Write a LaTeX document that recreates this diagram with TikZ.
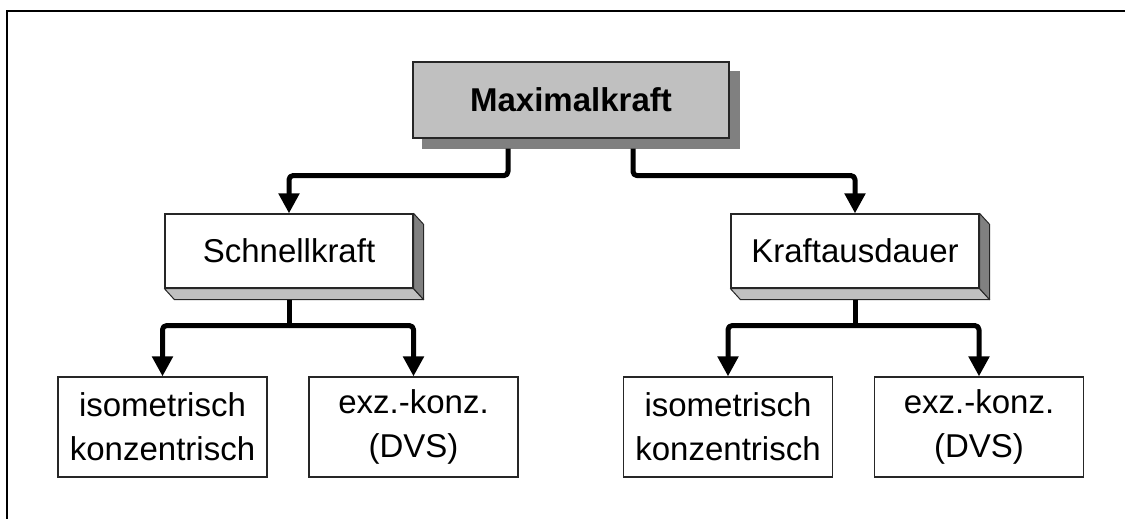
\documentclass[tikz,border=0pt]{standalone}
\usepackage{fontspec}
\setmainfont{Liberation Sans}
\usepackage{tikz}
\usetikzlibrary{positioning,arrows.meta,calc,backgrounds}
\definecolor{lightface}{HTML}{C0C0C0}
\definecolor{darkface}{HTML}{808080}
\tikzset{
  box/.style    = {draw=black!85, line width=0.6pt, fill=white, align=center,
                   inner sep=0pt, font=\fontsize{16.5}{22}\selectfont},
  mid/.style    = {box, minimum width=124pt, minimum height=37pt},
  leaf/.style   = {box, minimum width=104.5pt, minimum height=50pt},
  head/.style   = {box, fill=lightface, minimum width=158pt, minimum height=38pt,
                   font=\fontsize{16.5}{22}\selectfont\bfseries},
  conn/.style   = {line width=2.5pt, rounded corners=2pt, line join=round,
                   -{Triangle[length=10pt,width=10pt]}},
  face/.style   = {draw=black!85, line width=0.5pt, line join=round},
}
% bevel on the lower right of a node
\newcommand\bevel[1]{%
  \filldraw[face, fill=lightface] (#1.south west) -- (#1.south east)
    -- ++(5pt,-5.5pt) -- ($(#1.south west)+(5pt,-5.5pt)$) -- cycle;
  \filldraw[face, fill=darkface] (#1.north east) -- ++(5pt,-5.5pt)
    -- ($(#1.south east)+(5pt,-5.5pt)$) -- (#1.south east) -- cycle;}

\begin{document}
\begin{tikzpicture}[x=0.5pt, y=-0.5pt]
\useasboundingbox (0,0) rectangle (1125,519);
% frame
\draw[line width=1.2pt] (7,519) -- (7,11) -- (1125,11);

\node[head] (max) at (571,100) {Maximalkraft};
\begin{scope}[on background layer]
  \fill[darkface] ([xshift=5pt,yshift=-5pt]max.south west)
    rectangle ([xshift=5pt,yshift=-5pt]max.north east);
\end{scope}

\node[mid] (schnell) at (289,251) {Schnellkraft};
\node[mid] (ausdauer) at (855,251) {Kraftausdauer};
\bevel{schnell}
\bevel{ausdauer}

\node[leaf] (isoL) at (162.5,427) {isometrisch\\konzentrisch};
\node[leaf] (exzL) at (413.5,427) {exz.-konz.\\(DVS)};
\node[leaf] (isoR) at (728,427) {isometrisch\\konzentrisch};
\node[leaf] (exzR) at (979,427) {exz.-konz.\\(DVS)};

\draw[conn] ([xshift=-31.5pt,yshift=-5pt]max.south) -- ++(0,27) -| (schnell.north);
\draw[conn] ([xshift=31pt,yshift=-5pt]max.south) -- ++(0,27) -| (ausdauer.north);

\draw[conn, -] ([yshift=-5.5pt]schnell.south) -- ++(0,26) coordinate (sj);
\draw[conn] (sj) -| (isoL.north);
\draw[conn] (sj) -| (exzL.north);

\draw[conn, -] ([yshift=-5.5pt]ausdauer.south) -- ++(0,26) coordinate (aj);
\draw[conn] (aj) -| (isoR.north);
\draw[conn] (aj) -| (exzR.north);
\end{tikzpicture}
\end{document}
